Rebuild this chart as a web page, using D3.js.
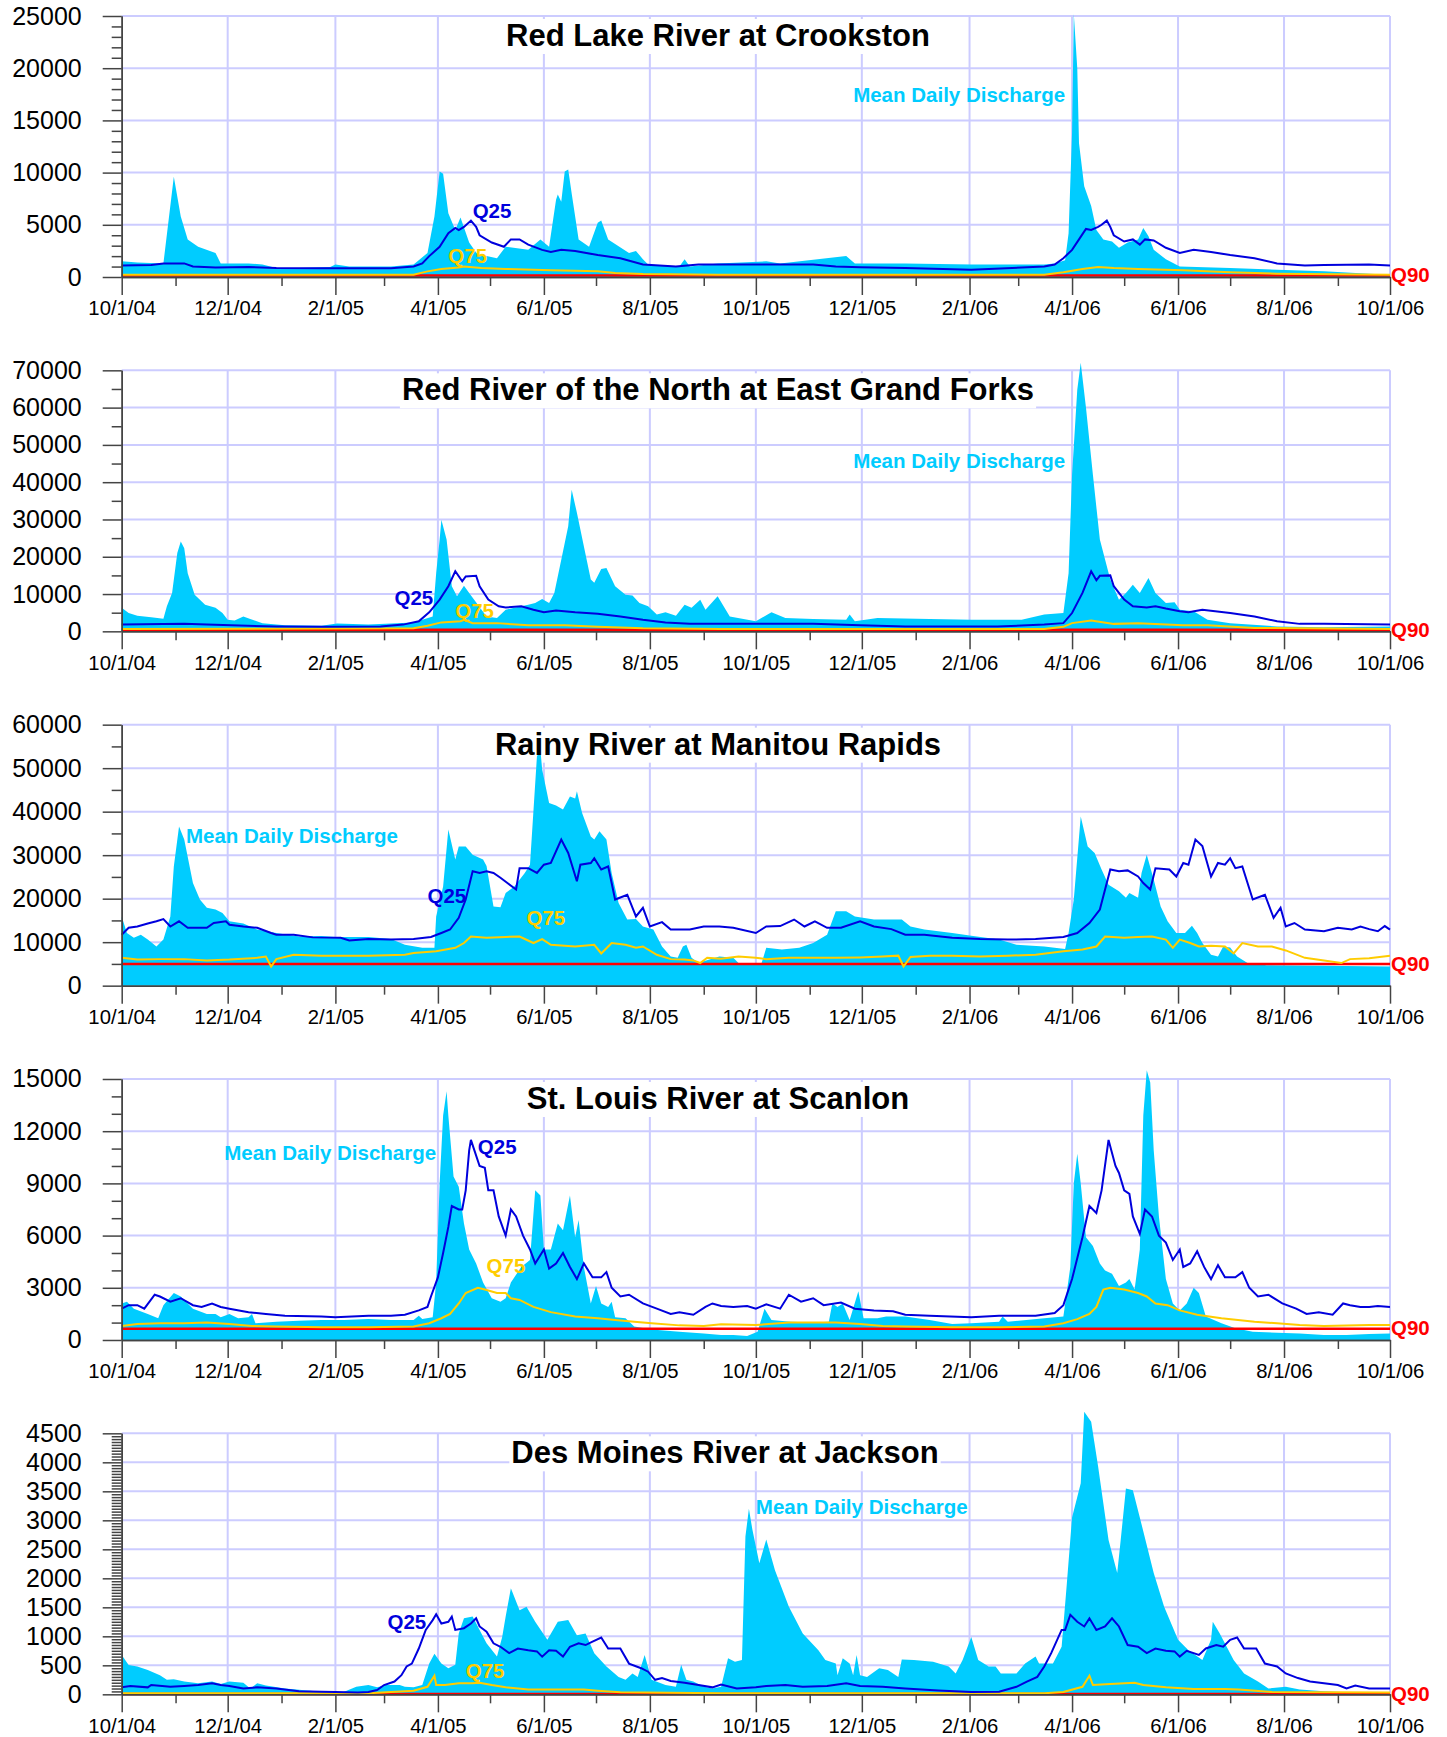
<!DOCTYPE html>
<html>
<head>
<meta charset="utf-8">
<script src="https://cdn.jsdelivr.net/npm/d3@7"></script>
<style>
	body { margin: 0; background: #fff; }
	text { font-family: 'Liberation Sans', Arial, sans-serif; }
</style>
</head>
<body>
<script>
// water year 2005-2006, x values are days since 10/1/04
const startDate = new Date(2004, 9, 1);
const endDate = new Date(2006, 9, 1);

// Red Lake River at Crookston
const crookstonFlow = [[0,1500],[9,1400],[24,1300],[30,9600],[34,5800],[38,3600],[44,2900],[54,2300],[57,1300],[62,1300],[73,1300],[81,1200],[89,860],[102,860],[120,950],[123,1200],[131,1000],[155,1000],[168,1200],[176,2300],[180,5800],[183,10100],[185,9900],[188,6100],[192,4500],[195,5700],[200,3300],[205,2100],[210,2000],[216,1800],[221,2900],[234,2600],[241,3600],[246,2900],[250,7400],[251,7900],[253,7200],[255,10100],[257,10300],[259,8000],[263,3600],[269,2900],[274,5200],[276,5400],[280,3600],[292,2300],[296,2500],[300,1700],[303,1200],[321,1000],[324,1700],[327,1000],[343,1300],[371,1500],[379,1300],[417,2000],[422,1300],[451,1300],[489,1200],[531,1200],[537,1300],[543,1600],[545,4200],[547,13800],[548,25200],[550,20000],[551,12800],[554,8700],[558,6800],[561,4500],[565,3600],[570,3400],[574,2800],[579,3300],[585,3600],[588,4700],[591,3900],[594,2600],[601,1700],[609,1000],[638,860],[665,700],[692,540],[718,320],[730,220]];
const crookstonQ25 = [[0,1100],[17,1150],[24,1300],[36,1300],[41,1000],[54,900],[73,950],[89,860],[115,830],[155,830],[168,1000],[173,1300],[177,2000],[183,2900],[188,4200],[192,4700],[194,4500],[197,4800],[201,5400],[204,4800],[206,4000],[213,3300],[220,2900],[224,3600],[229,3600],[234,3100],[242,2600],[247,2400],[253,2600],[261,2500],[274,2100],[287,1800],[300,1200],[319,1000],[332,1200],[345,1200],[398,1200],[411,1000],[425,930],[451,860],[489,700],[531,1000],[537,1200],[542,1800],[547,2600],[551,3600],[555,4600],[558,4500],[562,4800],[564,5000],[567,5400],[569,4800],[571,4000],[577,3400],[582,3600],[586,3100],[589,3600],[594,3500],[601,2800],[609,2300],[617,2600],[627,2400],[638,2100],[652,1800],[665,1300],[681,1100],[692,1150],[718,1200],[730,1100]];
const crookstonQ75 = [[0,220],[168,220],[176,540],[184,770],[194,920],[197,1000],[207,860],[221,770],[247,640],[274,540],[284,380],[300,290],[343,220],[531,220],[542,450],[553,770],[562,960],[571,860],[585,770],[611,640],[638,450],[665,320],[730,220]];
const crookstonQ90 = 150;

// Red River of the North at East Grand Forks
const grandForksFlow = [[0,6300],[4,4900],[9,4200],[17,3800],[24,3400],[26,6700],[29,10300],[32,21000],[34,24100],[36,22300],[38,15600],[42,9800],[48,7100],[54,6300],[58,4900],[61,3100],[65,2900],[70,4000],[74,3300],[81,2200],[94,1600],[115,1500],[124,2100],[142,1800],[168,2400],[179,4000],[181,15600],[183,24600],[184,29900],[187,24600],[190,12100],[193,9400],[197,12200],[200,10300],[205,7100],[210,4000],[216,3600],[221,5800],[226,6300],[234,7100],[238,7600],[242,8700],[246,7600],[249,10300],[253,19200],[257,28200],[259,38000],[262,31800],[266,22800],[270,13900],[272,13000],[276,16700],[279,17000],[284,12100],[290,9800],[294,9600],[298,7600],[303,6700],[308,4500],[313,5100],[319,4200],[324,7100],[328,6300],[333,8500],[336,5800],[343,9400],[350,4000],[365,2700],[374,5100],[382,3600],[398,3300],[417,3100],[419,4500],[422,2700],[435,3600],[465,3300],[489,3100],[518,3100],[531,4500],[542,4900],[545,15600],[547,42000],[550,64800],[552,72000],[555,60000],[559,42000],[563,24600],[569,13900],[574,8500],[578,10300],[582,12500],[586,10300],[591,14300],[595,10300],[601,7600],[606,7800],[609,5800],[617,5400],[625,3100],[638,2200],[665,1300],[692,1100],[730,1300]];
const grandForksQ25 = [[0,1800],[36,2000],[49,1800],[89,1300],[115,1200],[149,1300],[162,1800],[171,2700],[177,5100],[183,8500],[188,12100],[192,16100],[196,13400],[198,14700],[204,14900],[206,12100],[211,8500],[217,6700],[221,6400],[230,6700],[237,5800],[243,5100],[250,5600],[261,5100],[274,4700],[287,4000],[300,3100],[313,2400],[327,2000],[345,2000],[371,2000],[398,2000],[425,1600],[451,1300],[504,1300],[531,1800],[542,2200],[547,4900],[553,10300],[558,16100],[561,13700],[563,14900],[569,15000],[571,12100],[577,8500],[582,6700],[590,6400],[595,6700],[601,6100],[609,5400],[614,5100],[622,5800],[638,4900],[652,4000],[665,2700],[678,2000],[692,2000],[730,1800]];
const grandForksQ75 = [[0,630],[168,800],[176,1500],[184,2400],[195,2700],[197,3100],[202,2200],[216,2200],[234,1600],[255,1600],[274,1200],[300,800],[345,630],[531,630],[542,1200],[547,2200],[558,2900],[571,2000],[585,2200],[611,1600],[625,1600],[652,900],[730,630]];
const grandForksQ90 = 400;

// Rainy River at Manitou Rapids
const manitouFlow = [[0,15900],[3,12100],[7,11000],[11,11700],[15,10600],[20,9000],[24,10600],[28,15900],[30,27400],[33,36600],[36,33600],[41,23600],[45,19800],[49,17900],[54,17500],[58,16700],[62,14800],[70,14300],[78,12900],[89,12100],[102,11300],[115,11400],[123,11200],[142,11200],[155,10700],[163,9400],[173,8700],[180,8700],[181,15900],[185,22800],[188,35900],[192,29000],[194,32000],[198,32000],[202,30100],[208,29000],[210,27500],[214,18200],[218,18000],[221,21300],[226,22800],[232,25900],[235,27800],[239,52700],[241,54300],[242,49700],[246,42000],[250,41400],[254,40500],[258,43500],[261,43000],[262,44700],[265,39700],[270,34300],[272,33600],[275,35500],[279,33600],[282,25900],[286,19000],[291,15200],[296,15300],[300,13600],[306,12900],[311,9000],[316,6700],[320,6400],[323,9000],[325,9400],[328,6400],[332,5200],[335,5600],[344,6700],[352,6400],[356,4800],[368,4800],[371,8700],[380,8300],[390,8700],[398,9800],[406,11700],[411,17100],[417,17100],[422,15900],[433,15200],[449,15200],[454,13600],[462,12900],[478,12100],[489,11500],[505,10600],[515,9400],[531,9000],[543,8400],[545,12100],[548,19800],[552,38900],[556,32000],[560,30500],[564,26700],[568,23200],[574,21700],[578,20200],[580,21300],[585,20200],[587,25900],[590,30100],[594,24400],[598,18200],[602,14800],[607,12100],[612,12100],[616,13800],[619,12100],[622,9800],[627,7100],[631,6700],[634,9000],[638,8800],[642,6700],[648,5200],[659,4700],[692,4600],[730,4400]];
const manitouQ25 = [[0,11700],[4,13300],[9,13600],[15,14300],[20,14800],[24,15300],[28,13600],[33,14800],[38,13300],[49,13300],[53,14400],[60,14800],[62,14000],[70,13600],[78,13300],[86,12100],[89,11700],[99,11700],[110,11100],[126,11000],[131,10400],[142,10700],[155,10600],[168,10700],[178,11200],[184,12100],[189,12900],[194,15600],[198,19800],[202,26300],[206,25900],[210,26300],[214,25900],[218,24800],[222,23600],[227,22100],[229,27000],[234,27000],[239,25900],[243,27800],[247,28200],[253,33600],[257,30500],[262,24000],[264,27800],[270,28200],[272,29300],[276,26700],[280,27400],[284,19800],[291,20900],[296,15900],[300,17900],[304,13600],[311,14600],[316,12900],[327,12900],[335,13600],[344,13600],[352,13300],[365,12100],[371,13600],[379,13700],[387,15200],[393,13600],[399,14800],[406,13300],[414,13300],[425,14800],[433,13600],[443,13000],[451,11700],[462,11700],[478,11000],[494,10700],[510,10600],[526,10700],[542,11200],[550,12100],[557,14400],[563,17500],[569,26700],[574,26300],[579,26500],[585,25100],[588,23600],[592,22100],[595,27000],[603,26700],[607,25100],[611,28200],[614,27800],[618,33600],[622,32100],[627,25100],[631,28200],[635,27800],[638,29300],[641,27000],[645,27400],[651,19800],[658,20900],[663,15600],[667,17900],[670,13600],[675,14400],[681,12900],[692,12500],[700,13300],[708,12900],[713,13600],[718,13000],[723,12500],[727,13700],[730,12900]];
const manitouQ75 = [[0,6400],[9,6000],[22,6100],[36,6100],[49,5800],[62,6000],[78,6400],[83,6700],[86,4400],[89,6100],[99,7100],[115,6900],[142,6900],[163,7100],[168,7500],[181,7900],[192,8700],[197,9800],[201,11300],[210,11000],[221,11200],[229,11300],[237,9800],[242,10700],[247,9400],[261,9000],[272,9400],[276,7400],[282,9800],[290,9400],[296,8700],[300,9000],[308,7100],[316,6100],[324,6000],[329,5800],[333,5200],[337,6400],[345,6200],[355,6700],[365,6400],[371,6100],[384,6400],[398,6400],[411,6400],[425,6500],[438,6700],[447,6900],[450,4400],[454,6600],[465,6900],[478,6900],[494,6700],[510,6900],[526,7100],[542,7900],[553,8300],[561,9000],[566,11300],[577,11000],[585,11200],[593,11300],[601,10600],[605,8700],[609,10600],[615,9800],[620,9000],[627,9200],[635,9000],[640,7400],[645,9800],[654,9000],[662,9000],[670,8100],[681,6400],[692,5800],[702,5200],[707,6100],[718,6300],[730,6900]];
const manitouQ90 = 5000;

// St. Louis River at Scanlon
const scanlonFlow = [[0,2100],[3,2200],[7,1800],[15,1500],[21,1250],[24,2000],[30,2700],[34,2500],[41,1800],[49,1500],[54,1500],[57,1300],[62,1500],[67,1250],[73,1300],[75,1500],[77,960],[89,1050],[102,1100],[115,1150],[128,1150],[142,1200],[155,1150],[168,1150],[171,1400],[173,1200],[179,1300],[181,3300],[183,9000],[185,12900],[187,14300],[188,12900],[191,9400],[194,8800],[197,6700],[200,5200],[204,4400],[208,3300],[213,2400],[218,2200],[221,2400],[224,3300],[230,4200],[235,4600],[238,8600],[241,8300],[243,5200],[247,5200],[251,6700],[254,6300],[258,8300],[261,5900],[263,6900],[266,4200],[270,2100],[273,3100],[276,2100],[280,1900],[282,2200],[284,1300],[290,1250],[295,770],[305,610],[321,480],[335,380],[345,290],[352,290],[360,230],[366,480],[370,1800],[374,1150],[385,1050],[398,1000],[407,1050],[409,2100],[412,1900],[415,2100],[419,1150],[424,2800],[427,1250],[435,1250],[440,1350],[451,1350],[465,1150],[478,920],[489,960],[505,1050],[507,1350],[510,1050],[531,1250],[542,1350],[546,4200],[548,9000],[550,10700],[552,9000],[555,5900],[559,5400],[563,4400],[566,4000],[570,3800],[574,3100],[578,3300],[580,3500],[583,2900],[586,5200],[588,12900],[590,15500],[592,14800],[594,10900],[597,7100],[601,3500],[605,2100],[609,1700],[613,2100],[617,3000],[620,2700],[624,1350],[633,960],[641,670],[651,480],[665,420],[678,380],[692,290],[705,290],[718,340],[730,380]];
const scanlonQ25 = [[0,1800],[4,2000],[9,2000],[13,1800],[19,2600],[22,2500],[28,2200],[34,2400],[41,2000],[46,1900],[52,2100],[57,1900],[62,1800],[73,1600],[83,1500],[94,1400],[115,1350],[123,1300],[142,1400],[155,1400],[163,1450],[171,1700],[176,1900],[178,2500],[182,3600],[185,5000],[188,6500],[190,7700],[194,7500],[196,7500],[198,8600],[200,10900],[201,11500],[203,10900],[206,10000],[209,9900],[211,8600],[214,8600],[217,7100],[221,6000],[224,7500],[227,7100],[231,6000],[235,5200],[238,4400],[243,5200],[246,4100],[250,4400],[254,5000],[258,4200],[262,3500],[266,4400],[271,3600],[276,3600],[279,3900],[282,3000],[287,2500],[292,2600],[300,2100],[308,1800],[316,1500],[321,1600],[329,1450],[336,1900],[340,2100],[345,1950],[352,1900],[360,1950],[365,1800],[371,2050],[379,1800],[384,2600],[391,2200],[398,2400],[404,2000],[414,2150],[422,1800],[433,1700],[444,1650],[451,1450],[465,1400],[489,1300],[505,1400],[526,1400],[537,1550],[542,2000],[547,3500],[553,5900],[557,7700],[561,7300],[564,8600],[568,11500],[572,10000],[574,9600],[577,8600],[580,8400],[582,7100],[586,6100],[589,7500],[593,7100],[597,6000],[601,5600],[605,4600],[609,5200],[611,4200],[615,4400],[619,5100],[623,4200],[627,3500],[631,4300],[635,3600],[641,3600],[645,3900],[649,3000],[654,2500],[660,2600],[668,2100],[676,1800],[682,1500],[689,1600],[697,1450],[703,2100],[707,2000],[713,1900],[718,1900],[723,1950],[730,1900]];
const scanlonQ75 = [[0,810],[9,920],[22,960],[36,960],[49,1000],[62,920],[75,810],[89,770],[115,730],[142,730],[168,770],[177,960],[184,1250],[189,1500],[194,2100],[198,2700],[205,3000],[209,2900],[216,2700],[221,2700],[224,2400],[229,2300],[237,1900],[247,1600],[261,1350],[274,1250],[284,1150],[295,1050],[305,960],[321,840],[335,810],[345,900],[365,860],[384,1000],[411,1000],[425,920],[438,810],[451,770],[478,730],[505,730],[531,770],[542,960],[550,1200],[557,1500],[561,1900],[565,2900],[569,3000],[577,2900],[585,2700],[590,2500],[595,2100],[602,2000],[609,1700],[619,1450],[633,1250],[652,1050],[665,960],[678,860],[692,810],[718,860],[730,860]];
const scanlonQ90 = 650;

// Des Moines River at Jackson
const jacksonFlow = [[0,680],[4,505],[9,480],[15,420],[22,330],[26,250],[30,260],[36,220],[44,190],[52,220],[57,180],[62,220],[70,200],[74,100],[78,190],[83,150],[94,100],[115,45],[126,20],[135,130],[142,160],[147,120],[152,160],[160,160],[163,130],[168,120],[173,160],[177,530],[180,700],[184,530],[188,450],[192,510],[194,1050],[197,1310],[202,1340],[206,1110],[210,880],[216,650],[219,990],[221,1340],[224,1830],[229,1450],[233,1510],[238,1250],[245,940],[251,1250],[257,1280],[262,1020],[267,1050],[272,710],[279,480],[286,300],[290,250],[294,360],[297,300],[301,680],[305,250],[313,160],[319,130],[322,510],[325,250],[329,220],[335,130],[340,100],[345,130],[349,620],[353,560],[357,590],[359,2720],[361,3200],[363,2840],[367,2260],[371,2670],[376,2140],[384,1510],[392,1050],[401,760],[405,590],[411,530],[412,330],[415,620],[419,530],[421,330],[423,680],[425,330],[429,300],[436,450],[441,420],[447,300],[449,600],[456,590],[467,560],[476,480],[480,360],[484,590],[489,990],[493,590],[499,480],[503,480],[506,360],[515,360],[520,530],[526,650],[528,530],[536,530],[541,820],[544,1910],[547,3050],[550,3400],[552,3640],[554,4870],[558,4700],[562,3930],[568,2660],[573,2090],[575,2660],[578,3550],[582,3520],[586,3050],[594,2090],[600,1510],[608,940],[614,760],[622,590],[627,940],[628,1250],[632,1050],[640,590],[646,360],[654,220],[660,100],[670,130],[678,85],[692,55],[705,35],[730,30]];
const jacksonQ25 = [[0,120],[5,145],[15,120],[17,160],[28,130],[36,145],[44,160],[52,190],[57,160],[62,145],[70,100],[78,120],[89,100],[102,55],[115,45],[123,40],[136,30],[142,40],[147,75],[151,160],[157,220],[161,330],[164,480],[167,530],[171,790],[175,1110],[179,1280],[181,1380],[184,1220],[188,1250],[190,1340],[192,1110],[197,1140],[201,1220],[204,1310],[206,1170],[210,1080],[214,880],[218,820],[223,710],[228,790],[234,760],[239,740],[242,650],[246,760],[250,750],[254,650],[258,820],[263,880],[267,850],[271,910],[276,980],[280,790],[287,790],[292,530],[299,450],[303,390],[307,250],[311,280],[316,230],[324,200],[332,160],[340,120],[345,170],[354,100],[365,120],[371,145],[382,160],[392,130],[406,145],[417,190],[425,145],[438,130],[451,100],[470,65],[489,40],[505,45],[515,130],[521,220],[527,300],[531,480],[535,710],[541,1110],[543,1110],[546,1370],[550,1250],[554,1170],[557,1310],[561,1110],[566,1170],[570,1310],[574,1170],[579,850],[585,820],[590,710],[595,790],[601,750],[606,740],[609,650],[613,750],[620,680],[624,790],[630,850],[634,820],[638,940],[642,980],[646,790],[653,790],[658,530],[665,480],[670,360],[677,280],[684,220],[692,190],[700,160],[705,100],[710,150],[718,100],[730,100]];
const jacksonQ75 = [[0,17],[142,17],[168,63],[176,130],[180,320],[181,160],[186,160],[194,190],[202,190],[206,200],[213,160],[221,120],[234,85],[247,85],[266,85],[274,63],[287,35],[345,20],[531,20],[542,40],[553,130],[557,320],[559,160],[569,180],[583,200],[588,160],[601,120],[617,90],[635,90],[643,85],[662,40],[730,30]];
const jacksonQ90 = 5;

// annotation anchors [day, value]
const panels = [
	{ title: 'Red Lake River at Crookston', titleX: 718, flow: crookstonFlow, q25: crookstonQ25, q75: crookstonQ75, q90: crookstonQ90,
		yMax: 25000, yStep: 5000, yMinor: 1000, mdd: [421, 16790], q25Label: [202, 5650], q75Label: [188, 1340] },
	{ title: 'Red River of the North at East Grand Forks', titleX: 718, flow: grandForksFlow, q25: grandForksQ25, q75: grandForksQ75, q90: grandForksQ90,
		yMax: 70000, yStep: 10000, yMinor: 5000, mdd: [421, 43900], q25Label: [157, 7160], q75Label: [192, 3670] },
	{ title: 'Rainy River at Manitou Rapids', titleX: 718, flow: manitouFlow, q25: manitouQ25, q75: manitouQ75, q90: manitouQ90,
		yMax: 60000, yStep: 10000, yMinor: 5000, mdd: [37, 32870], q25Label: [176, 19080], q75Label: [233, 14020] },
	{ title: 'St. Louis River at Scanlon', titleX: 718, flow: scanlonFlow, q25: scanlonQ25, q75: scanlonQ75, q90: scanlonQ90,
		yMax: 15000, yStep: 3000, yMinor: 1000, mdd: [59, 10340], q25Label: [205, 10690], q75Label: [210, 3850] },
	{ title: 'Des Moines River at Jackson', titleX: 725, flow: jacksonFlow, q25: jacksonQ25, q75: jacksonQ75, q90: jacksonQ90,
		yMax: 4500, yStep: 500, yMinor: 50, mdd: [365, 3109], q25Label: [153, 1126], q75Label: [198, 281] },
];

const w = 1447;
const h = 1737;
const left = 121.7;
const right = 1390;
const panelH = 261;
const panelGap = 354.33;
const firstTop = 16;

const cyan = '#00ccff';
const blue = '#0000dd';
const gold = '#ffcc00';
const red = '#ff0000';
const grid = '#ccccff';

const svg = d3
	.select('body')
	.append('svg')
	.attr('width', w)
	.attr('height', h)
	.style('display', 'block');

const dayToDate = d => d3.timeDay.offset(startDate, d);

const xScale = d3.scaleTime().domain([startDate, endDate]).range([left, right]);

const months = d3.timeMonth.range(startDate, d3.timeDay.offset(endDate, 1));
const majorMonths = months.filter((m, i) => i % 2 === 0);
const minorMonths = months.filter((m, i) => i % 2 === 1);
const fmt = d3.timeFormat('%-m/%-d/%y');

panels.forEach((p, i) => {
	const top = firstTop + i * panelGap;
	const bottom = top + panelH;
	const yScale = d3.scaleLinear().domain([0, p.yMax]).range([bottom, top]);
	const majors = d3.range(0, p.yMax + 1, p.yStep);
	const minors = d3.range(0, p.yMax + 1, p.yMinor).filter(v => v % p.yStep !== 0);

	const g = svg.append('g');
	const gridG = g.append('g');
	const boxG = g.append('g');
	const dataG = g.append('g');
	const axisG = g.append('g');
	const textG = g.append('g');

	// grid
	gridG
		.selectAll('line.h')
		.data(majors.filter(v => v > 0))
		.enter()
		.append('line')
		.attr('x1', left)
		.attr('x2', right)
		.attr('y1', d => yScale(d))
		.attr('y2', d => yScale(d))
		.attr('stroke', grid)
		.attr('stroke-width', 2);
	gridG
		.selectAll('line.v')
		.data(majorMonths.slice(1))
		.enter()
		.append('line')
		.attr('x1', d => xScale(d))
		.attr('x2', d => xScale(d))
		.attr('y1', top)
		.attr('y2', bottom)
		.attr('stroke', grid)
		.attr('stroke-width', 2);

	// discharge area
	const area = d3
		.area()
		.x(d => xScale(dayToDate(d[0])))
		.y0(yScale(0))
		.y1(d => yScale(d[1]));
	dataG.append('path').datum(p.flow).attr('d', area).attr('fill', cyan);

	dataG
		.append('line')
		.attr('x1', left)
		.attr('x2', right)
		.attr('y1', yScale(p.q90))
		.attr('y2', yScale(p.q90))
		.attr('stroke', red)
		.attr('stroke-width', 2.5);

	const line = d3
		.line()
		.x(d => xScale(dayToDate(d[0])))
		.y(d => yScale(d[1]));
	dataG.append('path').datum(p.q75).attr('d', line).attr('fill', 'none').attr('stroke', gold).attr('stroke-width', 2);
	dataG.append('path').datum(p.q25).attr('d', line).attr('fill', 'none').attr('stroke', blue).attr('stroke-width', 2);

	// axes
	const yAxis = d3.axisLeft(yScale).tickValues(majors).tickSize(19).tickPadding(21).tickSizeOuter(0).tickFormat(d3.format('d'));
	const yMinorAxis = d3.axisLeft(yScale).tickValues(minors).tickSize(10).tickSizeOuter(0).tickFormat('');
	const xAxis = d3.axisBottom(xScale).tickValues(majorMonths).tickSize(18).tickPadding(6).tickSizeOuter(0).tickFormat(fmt);
	const xMinorAxis = d3.axisBottom(xScale).tickValues(minorMonths).tickSize(9).tickSizeOuter(0).tickFormat('');

	const ya = axisG.append('g').attr('transform', `translate(${left},0)`).call(yAxis);
	axisG.append('g').attr('transform', `translate(${left},0)`).call(yMinorAxis);
	const xa = axisG.append('g').attr('transform', `translate(0,${bottom})`).call(xAxis);
	axisG.append('g').attr('transform', `translate(0,${bottom})`).call(xMinorAxis);

	axisG.selectAll('path.domain').attr('stroke', '#444').attr('stroke-width', 1.5);
	axisG.selectAll('.tick line').attr('stroke', '#444').attr('stroke-width', 1.5);
	ya.selectAll('text').attr('font-size', 25).attr('fill', '#000').style('font-family', "'Liberation Sans', Arial, sans-serif");
	xa.selectAll('text').attr('font-size', 20.3).attr('fill', '#000').style('font-family', "'Liberation Sans', Arial, sans-serif");

	// title with white box
	const title = textG
		.append('text')
		.attr('x', p.titleX)
		.attr('y', top + 30)
		.attr('text-anchor', 'middle')
		.attr('font-size', 31)
		.attr('font-weight', 'bold')
		.text(p.title);
	const bb = title.node().getBBox();
	boxG
		.append('rect')
		.attr('x', bb.x - 2)
		.attr('y', top + 3)
		.attr('width', bb.width + 4)
		.attr('height', 35)
		.attr('fill', '#fff');

	// annotations
	const label = (pos, txt, color) =>
		textG
			.append('text')
			.attr('x', xScale(dayToDate(pos[0])))
			.attr('y', yScale(pos[1]))
			.attr('font-size', 20.5)
			.attr('font-weight', 'bold')
			.attr('fill', color)
			.text(txt);
	label(p.mdd, 'Mean Daily Discharge', cyan);
	label(p.q25Label, 'Q25', blue);
	label(p.q75Label, 'Q75', gold);

	textG
		.append('text')
		.attr('x', right + 1)
		.attr('y', yScale(p.q90))
		.attr('dy', '0.33em')
		.attr('font-size', 20.5)
		.attr('font-weight', 'bold')
		.attr('fill', red)
		.text('Q90');
});
</script>
</body>
</html>
